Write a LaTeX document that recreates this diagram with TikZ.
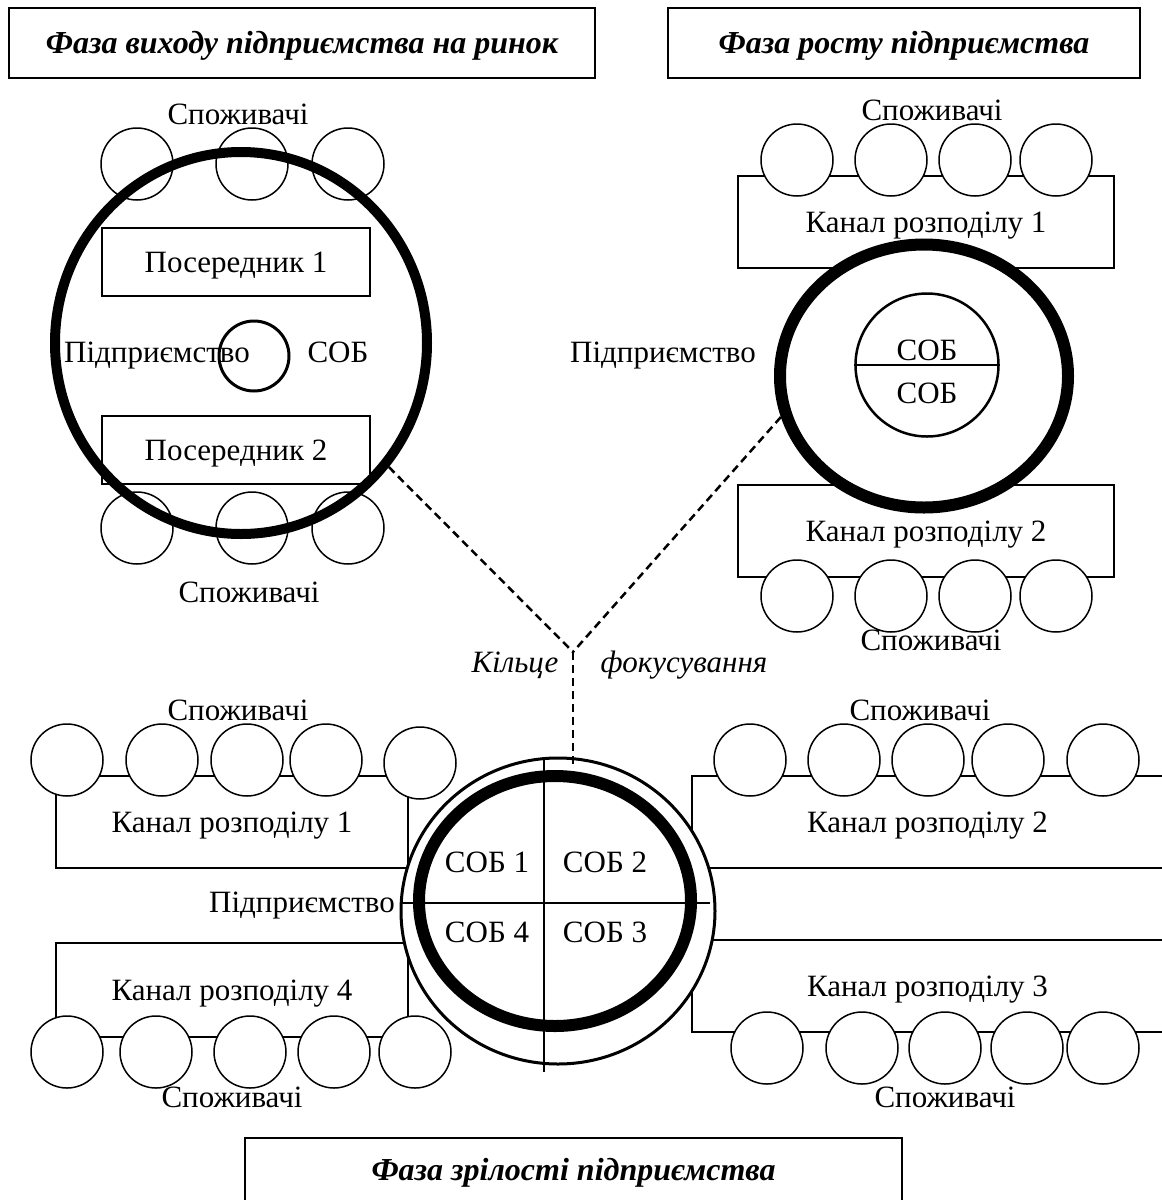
\documentclass[tikz,border=0pt]{standalone}
\usepackage{fontspec}
\setmainfont{Liberation Serif}
\usetikzlibrary{shapes.geometric}
\begin{document}
\begin{tikzpicture}[x=1pt,y=-1pt,
  every node/.style={font=\fontsize{31}{36}\selectfont,inner sep=0pt,text height=20.5pt,text depth=0pt},
  consumer/.style={circle,draw,fill=white,line width=1.5pt,minimum size=72pt},
  chanbox/.style={rectangle,draw,fill=white,line width=1.5pt},
  phasebox/.style={rectangle,draw,line width=1.5pt,font=\fontsize{32}{38}\selectfont\bfseries\itshape},
  thickring/.style={ellipse,draw,line width=#1},
  focusline/.style={line width=2.5pt,dash pattern=on 8pt off 5pt},
  divider/.style={line width=1.5pt},
  slanted/.style={font=\fontsize{31}{36}\selectfont\itshape}
]
\useasboundingbox (0,0) rectangle (1162,1200);
\clip (0,0) rectangle (1162,1200);

% ---------- phase titles ----------
\node[phasebox,minimum width=586pt,minimum height=70pt] (ph1) at (302,43) {Фаза виходу підприємства на ринок};
\node[phasebox,minimum width=472pt,minimum height=70pt] (ph2) at (904,43) {Фаза росту підприємства};
\node[phasebox,minimum width=657pt,minimum height=64pt] (ph3) at (573.5,1170) {Фаза зрілості підприємства};

% ---------- entry phase ----------
\node (tlTop) at (238,114) {Споживачі};
\foreach \x [count=\i] in {137,252,348} {
  \node[consumer] (tla\i) at (\x,164) {};
  \node[consumer] (tlb\i) at (\x,528) {};
}
\node[chanbox,minimum width=268pt,minimum height=68pt] (mid1) at (236,262) {Посередник 1};
\node[chanbox,minimum width=268pt,minimum height=68pt] (mid2) at (236,450) {Посередник 2};
\node[thickring=10pt,minimum width=372pt,minimum height=382pt] (entL) at (241,343) {};
\node[circle,draw,line width=3pt,minimum size=70pt] (sobL) at (254,356) {};
\node (entLtxt) at (157,352) {Підприємство};
\node (sobLtxt) at (338,352) {СОБ};
\node (tlBot) at (249,592) {Споживачі};

% ---------- growth phase ----------
\node (trTop) at (932,110) {Споживачі};
\node[chanbox,minimum width=376pt,minimum height=92pt] (chR1) at (926,222) {Канал розподілу 1};
\node[chanbox,minimum width=376pt,minimum height=92pt] (chR2) at (926,531) {Канал розподілу 2};
\foreach \x [count=\i] in {797,891,975,1056} {
  \node[consumer] (tra\i) at (\x,160) {};
  \node[consumer] (trb\i) at (\x,596) {};
}
\node[thickring=12pt,fill=white,minimum width=288pt,minimum height=263pt] (entR) at (924,376) {};
\node[circle,draw,line width=2.5pt,minimum size=143pt] (sobR) at (927,365) {};
\draw[line width=2pt] (sobR.west) -- (sobR.east);
\node (sobRa) at (927,350) {СОБ};
\node (sobRb) at (927,393) {СОБ};
\node (entRtxt) at (663,352) {Підприємство};
\node (trBot) at (931,640) {Споживачі};

% ---------- maturity phase ----------
\node[chanbox,minimum width=352pt,minimum height=92pt] (chB1) at (232,822) {Канал розподілу 1};
\node[chanbox,minimum width=352pt,minimum height=94pt] (chB4) at (232,990) {Канал розподілу 4};
\node[chanbox,minimum width=471pt,minimum height=92pt] (chB2) at (927.5,822) {Канал розподілу 2};
\node[chanbox,minimum width=471pt,minimum height=92pt] (chB3) at (927.5,986) {Канал розподілу 3};
\foreach \x/\y [count=\i] in {67/760,162/760,247/760,326/760,420/763} {
  \node[consumer] (bla\i) at (\x,\y) {};
}
\foreach \x [count=\i] in {67,156,250,334,415} {
  \node[consumer] (blb\i) at (\x,1052) {};
}
\foreach \x [count=\i] in {750,844,928,1008,1103} {
  \node[consumer] (bra\i) at (\x,760) {};
}
\foreach \x [count=\i] in {767,862,945,1027,1103} {
  \node[consumer] (brb\i) at (\x,1048) {};
}
\node[thickring=3pt,fill=white,minimum width=314pt,minimum height=306pt] (entB) at (558,911) {};
\node[thickring=12pt,minimum width=272pt,minimum height=250pt] (focB) at (555,901) {};
\coordinate (vTop) at (544,760);
\coordinate (vBot) at (544,1072);
\coordinate (hLeft) at (400,903);
\coordinate (hRight) at (710,903);
\draw[divider] (vTop) -- (vBot);
\draw[divider] (hLeft) -- (hRight);
\node (sob1) at (487,862) {СОБ 1};
\node (sob2) at (605,862) {СОБ 2};
\node (sob4) at (487,932) {СОБ 4};
\node (sob3) at (605,932) {СОБ 3};
\node[anchor=east] (entBtxt) at (395,902) {Підприємство};
\node (blTop) at (238,710) {Споживачі};
\node (blBot) at (232,1097) {Споживачі};
\node (brTop) at (920,710) {Споживачі};
\node (brBot) at (945,1097) {Споживачі};

% ---------- focusing ring ----------
\coordinate (J) at (573,652);
\draw[focusline] (entL.-40) -- (J);
\draw[focusline] (entR.196) -- (J);
\draw[focusline,shorten >=6pt] (J) -- (J |- focB.north);
\node[slanted] (ringA) at (515,662) {Кільце};
\node[slanted] (ringB) at (684,662) {фокусування};
\end{tikzpicture}
\end{document}
